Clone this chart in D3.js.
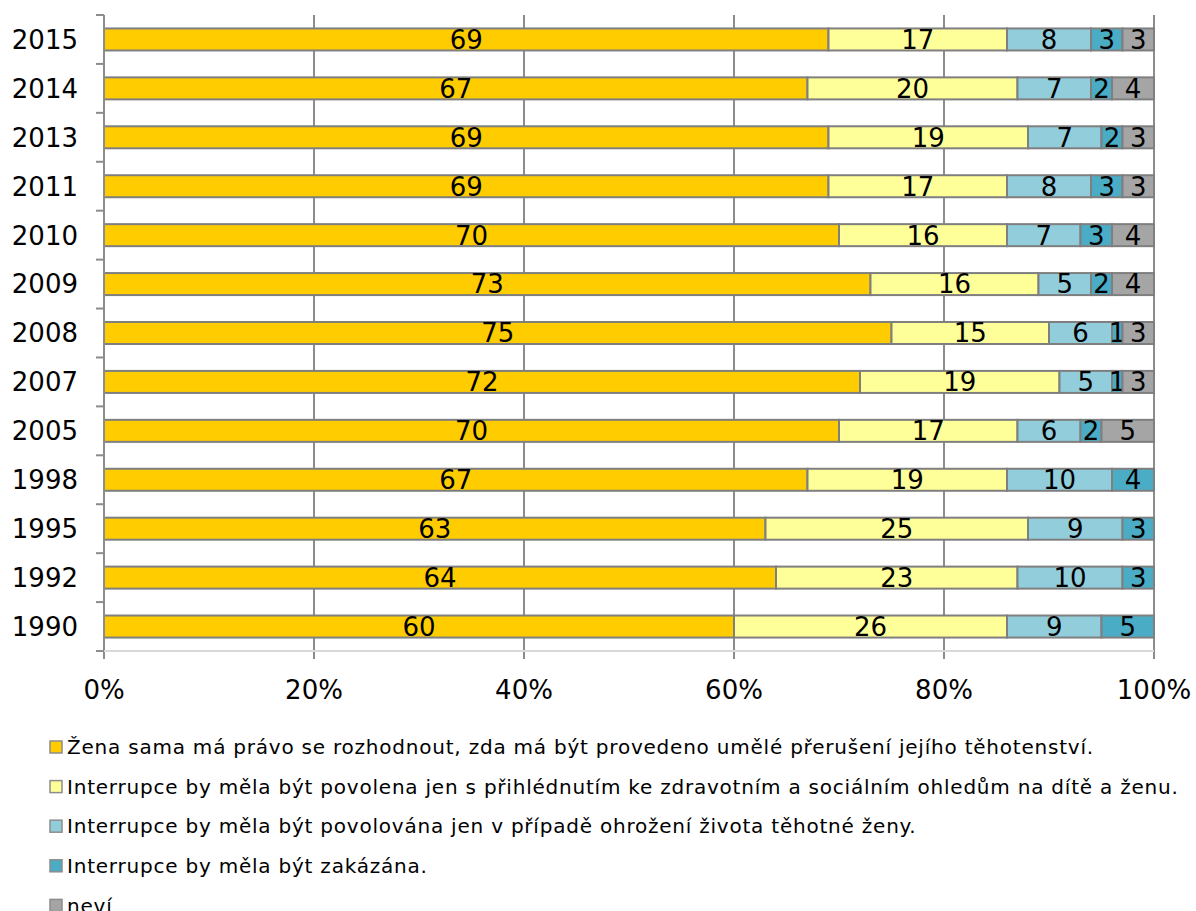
<!DOCTYPE html>
<html>
<head>
<meta charset="utf-8">
<title>Interrupce</title>
<script src="https://d3js.org/d3.v7.min.js"></script>
<style>
  body { margin: 0; background: #fff; }
  text { font-family: Verdana, "DejaVu Sans", sans-serif; }
</style>
</head>
<body>
<svg id="chart" width="1196" height="911"></svg>
<script>
var years = ["2015", "2014", "2013", "2011", "2010", "2009", "2008", "2007", "2005", "1998", "1995", "1992", "1990"];
var zena     = [69, 67, 69, 69, 70, 73, 75, 72, 70, 67, 63, 64, 60];
var povolena = [17, 20, 19, 17, 16, 16, 15, 19, 17, 19, 25, 23, 26];
var ohrozeni = [8, 7, 7, 8, 7, 5, 6, 5, 6, 10, 9, 10, 9];
var zakazana = [3, 2, 2, 3, 3, 2, 1, 1, 2, 4, 3, 3, 5];
var nevi     = [3, 4, 3, 3, 4, 4, 3, 3, 5, 0, 0, 0, 0];
var seriesNames = [
  "Žena sama má právo se rozhodnout, zda má být provedeno umělé přerušení jejího těhotenství.",
  "Interrupce by měla být povolena jen s přihlédnutím ke zdravotním a sociálním ohledům na dítě a ženu.",
  "Interrupce by měla být povolována jen v případě ohrožení života těhotné ženy.",
  "Interrupce by měla být zakázána.",
  "neví"
];
var colors = ["#ffcc00", "#ffff99", "#92cddc", "#4bacc6", "#a5a5a5"];
var xTicks = [0, 0.2, 0.4, 0.6, 0.8, 1];

var keys = ["s0", "s1", "s2", "s3", "s4"];
var all = [zena, povolena, ohrozeni, zakazana, nevi];
var table = years.map(function(y, i) {
  var row = { year: y };
  var total = 0;
  all.forEach(function(s) { total += s[i]; });
  keys.forEach(function(k, j) { row[k] = all[j][i] / total; row["v" + j] = all[j][i]; });
  return row;
});

var svg = d3.select("#chart");
var pLeft = 104, pRight = 1154, pTop = 15, pBottom = 651;

var x = d3.scaleLinear().domain([0, 1]).range([pLeft, pRight]);
var y = d3.scaleBand().domain(years).range([pTop, pBottom]).paddingInner(0.55).paddingOuter(0.275);
var yb = d3.scaleBand().domain(years).range([pTop, pBottom]);

// gridlines
svg.append("g")
  .selectAll("line")
  .data(xTicks.slice(1))
  .enter()
  .append("line")
  .attr("x1", function(d) { return x(d); })
  .attr("x2", function(d) { return x(d); })
  .attr("y1", pTop)
  .attr("y2", pBottom + 8)
  .attr("stroke", "#8c8c8c")
  .attr("stroke-width", 2);

var stack = d3.stack().keys(keys)(table);

var layers = svg.append("g")
  .selectAll("g")
  .data(stack)
  .enter()
  .append("g")
  .attr("fill", function(d, i) { return colors[i]; });

layers.selectAll("rect")
  .data(function(d) { return d.filter(function(p) { return p[1] - p[0] > 0; }); })
  .enter()
  .append("rect")
  .attr("x", function(d) { return x(d[0]); })
  .attr("y", function(d) { return y(d.data.year); })
  .attr("width", function(d) { return x(d[1]) - x(d[0]); })
  .attr("height", y.bandwidth())
  .attr("stroke", "#7f7f7f")
  .attr("stroke-width", 2);

layers.each(function(layer, li) {
  d3.select(this).selectAll("text")
    .data(layer.filter(function(p) { return p[1] - p[0] > 0; }))
    .enter()
    .append("text")
    .attr("x", function(d) { return (x(d[0]) + x(d[1])) / 2; })
    .attr("y", function(d) { return y(d.data.year) + y.bandwidth() / 2; })
    .attr("dy", "0.36em")
    .attr("text-anchor", "middle")
    .attr("fill", "#000")
    .style("font-size", "26px")
    .text(function(d) { return d.data["v" + li]; });
});

// y axis
var yAxis = svg.append("g");
yAxis.append("line")
  .attr("x1", pLeft).attr("x2", pLeft)
  .attr("y1", pTop).attr("y2", pBottom + 8)
  .attr("stroke", "#8c8c8c").attr("stroke-width", 2);
yAxis.selectAll("line.tick")
  .data(years.concat(["end"]))
  .enter()
  .append("line")
  .attr("class", "tick")
  .attr("x1", pLeft - 8).attr("x2", pLeft)
  .attr("y1", function(d) { return d == "end" ? pBottom : yb(d); })
  .attr("y2", function(d) { return d == "end" ? pBottom : yb(d); })
  .attr("stroke", "#8c8c8c").attr("stroke-width", 2);
yAxis.selectAll("text")
  .data(years)
  .enter()
  .append("text")
  .attr("x", 78)
  .attr("y", function(d) { return yb(d) + yb.bandwidth() / 2; })
  .attr("dy", "0.36em")
  .attr("text-anchor", "end")
  .style("font-size", "26px")
  .text(function(d) { return d; });

// x axis
var xAxis = svg.append("g");
xAxis.append("line")
  .attr("x1", pLeft).attr("x2", pRight)
  .attr("y1", pBottom).attr("y2", pBottom)
  .attr("stroke", "#d9d9d9").attr("stroke-width", 2);
xAxis.selectAll("text")
  .data(xTicks)
  .enter()
  .append("text")
  .attr("x", function(d) { return x(d); })
  .attr("y", 699)
  .attr("text-anchor", "middle")
  .style("font-size", "26px")
  .text(function(d) { return d3.format(".0%")(d); });

// legend
var legend = svg.append("g")
  .selectAll("g")
  .data(seriesNames)
  .enter()
  .append("g")
  .attr("transform", function(d, i) { return "translate(50," + (747 + i * 39.6) + ")"; });
legend.append("rect")
  .attr("x", 0).attr("y", -6)
  .attr("width", 12).attr("height", 12)
  .attr("fill", function(d, i) { return colors[i]; })
  .attr("stroke", "#8c8c8c").attr("stroke-width", 1.5);
legend.append("text")
  .attr("x", 17)
  .attr("dy", "0.36em")
  .style("font-size", "20px")
  .style("letter-spacing", "0.78px")
  .text(function(d) { return d; });
</script>
</body>
</html>
